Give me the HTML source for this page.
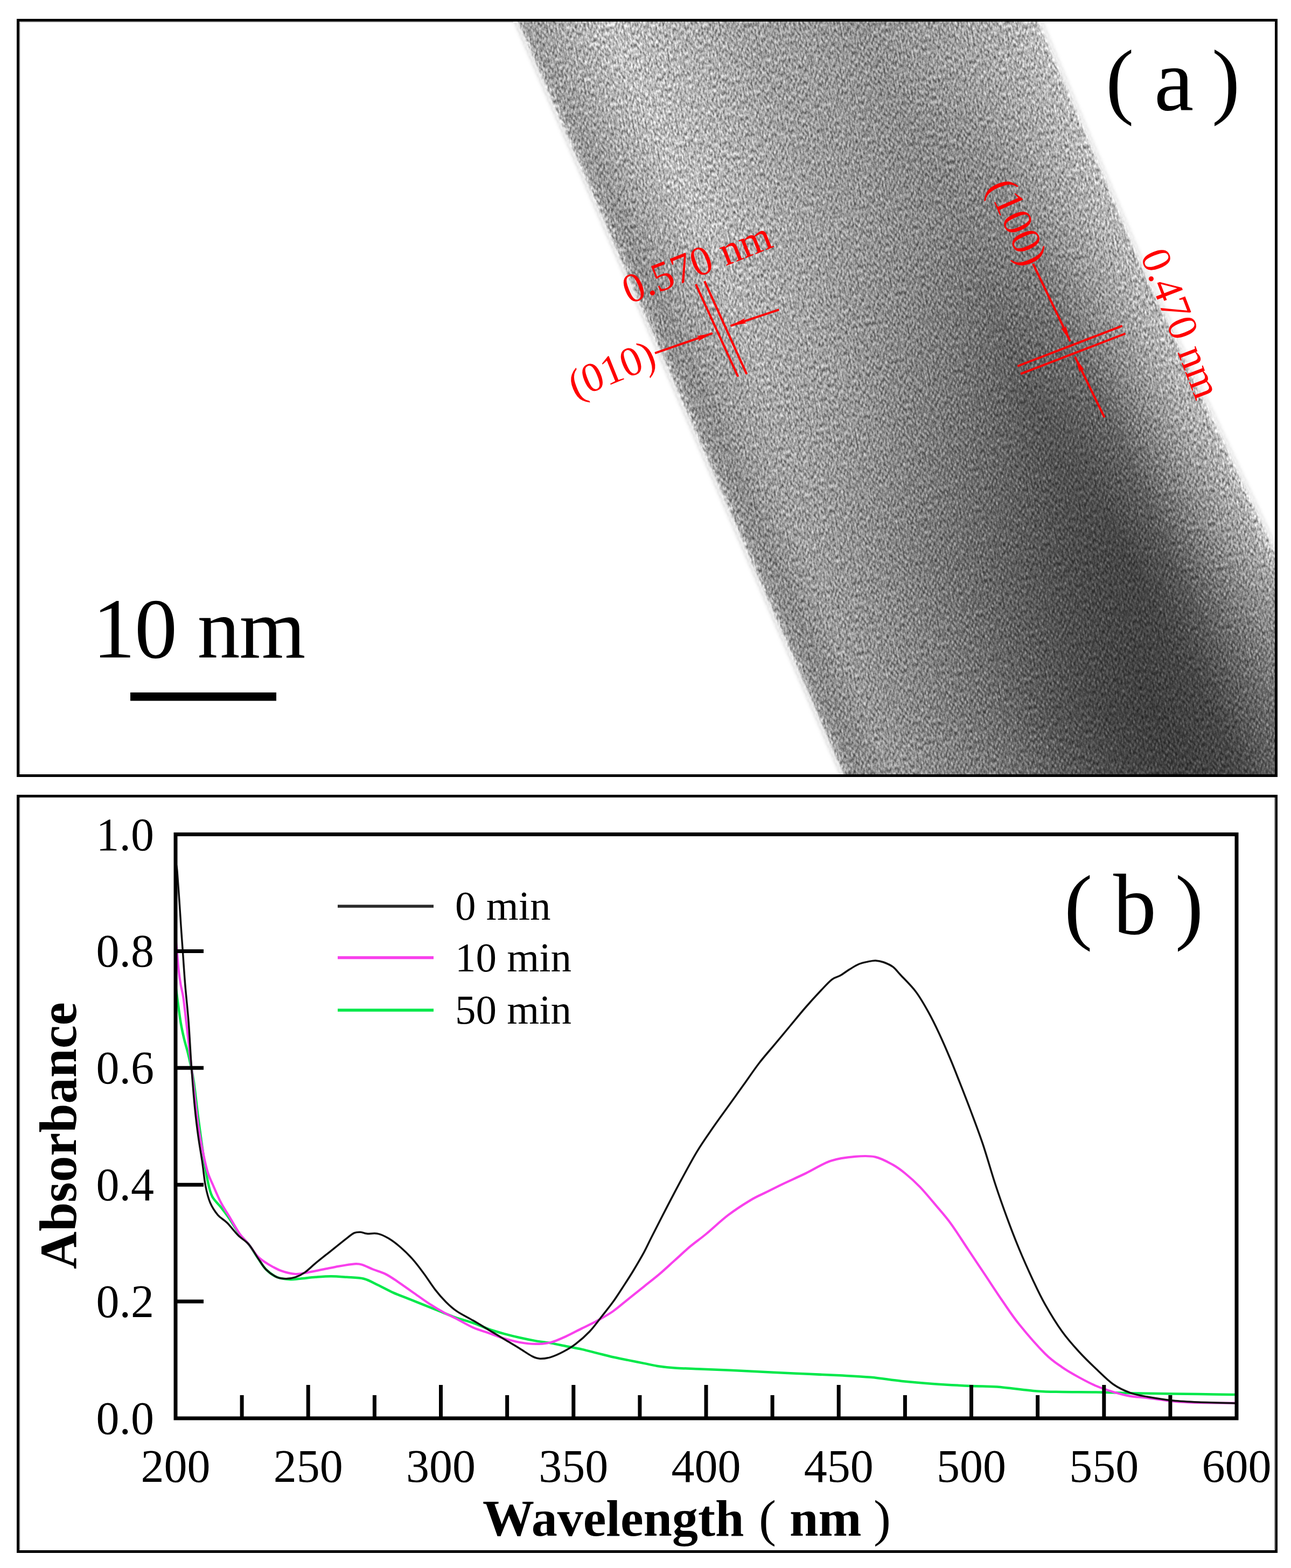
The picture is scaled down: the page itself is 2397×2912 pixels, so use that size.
<!DOCTYPE html>
<html><head><meta charset="utf-8"><title>Figure</title>
<style>
html,body{margin:0;padding:0;background:#fff;}
body{width:2397px;height:2912px;overflow:hidden;}
svg{display:block;}
text{font-family:"Liberation Serif","Times New Roman",serif;}
</style></head>
<body>
<svg width="2397" height="2912" viewBox="0 0 2397 2912">
<defs>
<clipPath id="clipA"><rect x="36" y="40" width="2331" height="1398"/></clipPath>
<linearGradient id="gp0" gradientUnits="userSpaceOnUse" x1="959.0" y1="40.0" x2="1780.4" y2="-315.5"><stop offset="0.000" stop-color="#b9b9b9"/><stop offset="0.008" stop-color="#acacac"/><stop offset="0.018" stop-color="#969696"/><stop offset="0.040" stop-color="#9b9b9b"/><stop offset="0.176" stop-color="#bcbcbc"/><stop offset="0.330" stop-color="#aaaaaa"/><stop offset="0.435" stop-color="#9a9a9a"/><stop offset="0.525" stop-color="#969696"/><stop offset="0.655" stop-color="#8b8b8b"/><stop offset="0.810" stop-color="#999999"/><stop offset="0.930" stop-color="#aaaaaa"/><stop offset="0.985" stop-color="#b9b9b9"/><stop offset="1.000" stop-color="#cfcfcf"/></linearGradient>
<linearGradient id="gp1" gradientUnits="userSpaceOnUse" x1="959.0" y1="40.0" x2="1780.4" y2="-315.5"><stop offset="0.000" stop-color="#b9b9b9"/><stop offset="0.008" stop-color="#aaaaaa"/><stop offset="0.018" stop-color="#929292"/><stop offset="0.040" stop-color="#8c8c8c"/><stop offset="0.070" stop-color="#999999"/><stop offset="0.180" stop-color="#b8b8b8"/><stop offset="0.380" stop-color="#9d9d9d"/><stop offset="0.540" stop-color="#898989"/><stop offset="0.680" stop-color="#7a7a7a"/><stop offset="0.790" stop-color="#7e7e7e"/><stop offset="0.880" stop-color="#979797"/><stop offset="0.940" stop-color="#a9a9a9"/><stop offset="0.985" stop-color="#b6b6b6"/><stop offset="1.000" stop-color="#cccccc"/></linearGradient>
<linearGradient id="gm1" gradientUnits="userSpaceOnUse" x1="0" y1="130" x2="0" y2="430"><stop offset="0" stop-color="#fff" stop-opacity="0"/><stop offset="1" stop-color="#fff" stop-opacity="1"/></linearGradient>
<mask id="mk1" maskUnits="userSpaceOnUse" x="800" y="-200" width="1700" height="1900"><rect x="800" y="-200" width="1700" height="1900" fill="url(#gm1)"/></mask>
<linearGradient id="gp2" gradientUnits="userSpaceOnUse" x1="959.0" y1="40.0" x2="1780.4" y2="-315.5"><stop offset="0.000" stop-color="#b9b9b9"/><stop offset="0.008" stop-color="#aaaaaa"/><stop offset="0.018" stop-color="#909090"/><stop offset="0.045" stop-color="#888888"/><stop offset="0.080" stop-color="#969696"/><stop offset="0.165" stop-color="#a4a4a4"/><stop offset="0.320" stop-color="#949494"/><stop offset="0.426" stop-color="#808080"/><stop offset="0.530" stop-color="#707070"/><stop offset="0.670" stop-color="#565656"/><stop offset="0.800" stop-color="#626262"/><stop offset="0.878" stop-color="#868686"/><stop offset="0.940" stop-color="#a3a3a3"/><stop offset="0.985" stop-color="#b4b4b4"/><stop offset="1.000" stop-color="#cccccc"/></linearGradient>
<linearGradient id="gm2" gradientUnits="userSpaceOnUse" x1="0" y1="430" x2="0" y2="730"><stop offset="0" stop-color="#fff" stop-opacity="0"/><stop offset="1" stop-color="#fff" stop-opacity="1"/></linearGradient>
<mask id="mk2" maskUnits="userSpaceOnUse" x="800" y="-200" width="1700" height="1900"><rect x="800" y="-200" width="1700" height="1900" fill="url(#gm2)"/></mask>
<linearGradient id="gp3" gradientUnits="userSpaceOnUse" x1="959.0" y1="40.0" x2="1780.4" y2="-315.5"><stop offset="0.000" stop-color="#b4b4b4"/><stop offset="0.008" stop-color="#a5a5a5"/><stop offset="0.018" stop-color="#8c8c8c"/><stop offset="0.045" stop-color="#858585"/><stop offset="0.075" stop-color="#909090"/><stop offset="0.116" stop-color="#999999"/><stop offset="0.236" stop-color="#888888"/><stop offset="0.343" stop-color="#747474"/><stop offset="0.433" stop-color="#666666"/><stop offset="0.530" stop-color="#565656"/><stop offset="0.620" stop-color="#494949"/><stop offset="0.720" stop-color="#424242"/><stop offset="0.800" stop-color="#525252"/><stop offset="0.860" stop-color="#6e6e6e"/><stop offset="0.925" stop-color="#8c8c8c"/><stop offset="0.980" stop-color="#a2a2a2"/><stop offset="1.000" stop-color="#bcbcbc"/></linearGradient>
<linearGradient id="gm3" gradientUnits="userSpaceOnUse" x1="0" y1="730" x2="0" y2="1030"><stop offset="0" stop-color="#fff" stop-opacity="0"/><stop offset="1" stop-color="#fff" stop-opacity="1"/></linearGradient>
<mask id="mk3" maskUnits="userSpaceOnUse" x="800" y="-200" width="1700" height="1900"><rect x="800" y="-200" width="1700" height="1900" fill="url(#gm3)"/></mask>
<linearGradient id="gp4" gradientUnits="userSpaceOnUse" x1="959.0" y1="40.0" x2="1780.4" y2="-315.5"><stop offset="0.000" stop-color="#afafaf"/><stop offset="0.008" stop-color="#a0a0a0"/><stop offset="0.018" stop-color="#888888"/><stop offset="0.040" stop-color="#838383"/><stop offset="0.100" stop-color="#909090"/><stop offset="0.222" stop-color="#7c7c7c"/><stop offset="0.343" stop-color="#686868"/><stop offset="0.443" stop-color="#525252"/><stop offset="0.550" stop-color="#424242"/><stop offset="0.650" stop-color="#3c3c3c"/><stop offset="0.760" stop-color="#444444"/><stop offset="0.835" stop-color="#5c5c5c"/><stop offset="0.900" stop-color="#6c6c6c"/><stop offset="1.000" stop-color="#7d7d7d"/></linearGradient>
<linearGradient id="gm4" gradientUnits="userSpaceOnUse" x1="0" y1="1030" x2="0" y2="1330"><stop offset="0" stop-color="#fff" stop-opacity="0"/><stop offset="1" stop-color="#fff" stop-opacity="1"/></linearGradient>
<mask id="mk4" maskUnits="userSpaceOnUse" x="800" y="-200" width="1700" height="1900"><rect x="800" y="-200" width="1700" height="1900" fill="url(#gm4)"/></mask>
<filter id="tex" x="-0.05" y="-0.05" width="1.1" height="1.1" color-interpolation-filters="sRGB"><feOffset in="SourceGraphic" dx="0" dy="0" result="b"/><feTurbulence type="fractalNoise" baseFrequency="0.30 0.13" numOctaves="2" seed="11" result="t"/><feColorMatrix in="t" type="matrix" values="1 0 0 0 0  1 0 0 0 0  1 0 0 0 0  0 0 0 0 1" result="g"/><feComposite in="b" in2="g" operator="arithmetic" k1="1.4" k2="0.3" k3="0" k4="0" result="c"/><feComposite in="c" in2="b" operator="in"/></filter>
<marker id="arr" viewBox="0 0 30 12" refX="30" refY="6" markerWidth="30" markerHeight="12" markerUnits="userSpaceOnUse" orient="auto"><path d="M0,1 L30,6 L0,11 L6,6 Z" fill="#f00"/></marker>
<filter id="blurM" x="-0.05" y="-0.05" width="1.1" height="1.1"><feGaussianBlur stdDeviation="5"/></filter>
<mask id="mBand" maskUnits="userSpaceOnUse" x="800" y="-200" width="1700" height="1900"><path d="M898.4,-100.0 L1872.2,-100.0 L1931.0,40.0 L2019.0,250.0 L2124.0,500.0 L2366.0,1016.0 L2420.0,1131.0 L2420.0,1560.0 L1616.8,1560.0 Z" fill="#fff" filter="url(#blurM)" transform="translate(0,0)"/></mask>
<pattern id="lat" patternUnits="userSpaceOnUse" width="9" height="12" patternTransform="rotate(-10)"><rect width="9" height="12" fill="#787878"/><ellipse cx="0" cy="0" rx="2.1" ry="3.3" fill="#9c9c9c"/><ellipse cx="9" cy="0" rx="2.1" ry="3.3" fill="#9c9c9c"/><ellipse cx="0" cy="12" rx="2.1" ry="3.3" fill="#9c9c9c"/><ellipse cx="9" cy="12" rx="2.1" ry="3.3" fill="#9c9c9c"/><ellipse cx="4.5" cy="6" rx="2.1" ry="3.3" fill="#9c9c9c"/></pattern>
</defs>
<g clip-path="url(#clipA)"><g transform="rotate(-10 1660 740)"><g filter="url(#tex)"><g transform="rotate(10 1660 740)">
<path d="M898.4,-100.0 L1872.2,-100.0 L1931.0,40.0 L2019.0,250.0 L2124.0,500.0 L2366.0,1016.0 L2420.0,1131.0 L2420.0,1560.0 L1616.8,1560.0 Z" fill="url(#gp0)"/>
<path d="M898.4,-100.0 L1872.2,-100.0 L1931.0,40.0 L2019.0,250.0 L2124.0,500.0 L2366.0,1016.0 L2420.0,1131.0 L2420.0,1560.0 L1616.8,1560.0 Z" fill="url(#gp1)" mask="url(#mk1)"/>
<path d="M898.4,-100.0 L1872.2,-100.0 L1931.0,40.0 L2019.0,250.0 L2124.0,500.0 L2366.0,1016.0 L2420.0,1131.0 L2420.0,1560.0 L1616.8,1560.0 Z" fill="url(#gp2)" mask="url(#mk2)"/>
<path d="M898.4,-100.0 L1872.2,-100.0 L1931.0,40.0 L2019.0,250.0 L2124.0,500.0 L2366.0,1016.0 L2420.0,1131.0 L2420.0,1560.0 L1616.8,1560.0 Z" fill="url(#gp3)" mask="url(#mk3)"/>
<path d="M898.4,-100.0 L1872.2,-100.0 L1931.0,40.0 L2019.0,250.0 L2124.0,500.0 L2366.0,1016.0 L2420.0,1131.0 L2420.0,1560.0 L1616.8,1560.0 Z" fill="url(#gp4)" mask="url(#mk4)"/>
</g></g></g>
<rect x="900" y="40" width="1467" height="1398" fill="url(#lat)" mask="url(#mBand)" style="mix-blend-mode:overlay"/>
<filter id="fth" x="-0.1" y="-0.1" width="1.2" height="1.2"><feGaussianBlur stdDeviation="1.8"/></filter>
<g fill="none" stroke="#fff" filter="url(#fth)">
<path d="M898.4,-100.0 L1616.8,1560.0" stroke-width="5" stroke-opacity="0.8"/>
<path d="M1872.2,-100.0 L1931.0,40.0 L2019.0,250.0 L2124.0,500.0 L2366.0,1016.0 L2420.0,1131.0" stroke-width="8" stroke-opacity="0.7"/>
</g>
</g>
<rect x="33.5" y="37.5" width="2336" height="1403" fill="none" stroke="#000" stroke-width="5"/>
<text x="2053" y="200.5" font-size="157" fill="#000">(</text>
<text x="2143" y="203.5" font-size="165" fill="#000">a</text>
<text x="2250" y="200.5" font-size="157" fill="#000">)</text>
<text x="172" y="1221" font-size="158" letter-spacing="-1" fill="#000">10 nm</text>
<rect x="242" y="1286" width="271" height="15.5" fill="#000"/>
<g fill="#f00" font-size="77">
<text id="t570" transform="translate(1168,565) rotate(-21.6)">0.570 nm</text>
<text id="t010" transform="translate(1068,741) rotate(-22)">(010)</text>
<text id="t100" transform="translate(1833,346) rotate(66.5)">(100)</text>
<text id="t470" transform="translate(2117,474) rotate(69)">0.470 nm</text>
</g>
<g stroke="#f00" fill="none" stroke-width="4" stroke-linecap="butt">
<line x1="1291.9" y1="527.9" x2="1370.3" y2="699.5"/>
<line x1="1308.1" y1="522.1" x2="1386.4" y2="694.9"/>
<line x1="1216" y1="655.8" x2="1323" y2="618.9" marker-end="url(#arr)"/>
<line x1="1446.3" y1="575.1" x2="1356.5" y2="605.1" marker-end="url(#arr)"/>
<line x1="1889.3" y1="680" x2="2083.7" y2="605.1"/>
<line x1="1895" y1="694.4" x2="2089.5" y2="619.5"/>
<line x1="1918.1" y1="489.9" x2="1987.2" y2="633.9" marker-end="url(#arr)"/>
<line x1="2050.6" y1="775.1" x2="1995.9" y2="662.7" marker-end="url(#arr)"/>
</g>
<rect x="33.5" y="1478.5" width="2336" height="1403" fill="none" stroke="#000" stroke-width="5"/>
<g fill="#cdcdcd"><rect x="36" y="40" width="2" height="1398"/><rect x="38" y="40" width="915" height="2"/><rect x="36" y="1481" width="2" height="1397"/><rect x="2366" y="1481" width="2" height="1397" fill="#8a8a8a"/></g>
<g fill="none" stroke-linejoin="round" stroke-linecap="round">
<path d="M325.5,1825.0 C326.2,1830.8 328.3,1847.5 330.0,1860.0 C331.7,1872.5 333.7,1888.3 335.7,1900.0 C337.7,1911.7 339.6,1920.0 342.0,1930.0 C344.4,1940.0 347.1,1947.4 350.0,1960.0 C352.9,1972.6 356.3,1986.2 359.3,2005.4 C362.3,2024.6 364.8,2051.0 368.0,2075.0 C371.2,2099.0 375.3,2129.6 378.3,2149.6 C381.3,2169.6 383.4,2182.9 386.0,2195.0 C388.6,2207.1 389.9,2214.1 394.0,2222.0 C398.1,2229.9 405.1,2235.5 410.3,2242.2 C415.5,2248.9 419.2,2253.7 425.0,2262.0 C430.8,2270.3 438.7,2283.8 444.9,2292.0 C451.1,2300.2 456.4,2303.8 462.2,2311.3 C467.9,2318.8 474.1,2329.5 479.4,2337.2 C484.7,2344.9 488.0,2351.6 493.8,2357.4 C499.6,2363.2 506.8,2368.7 514.0,2371.8 C521.2,2374.9 529.8,2375.6 537.0,2376.1 C544.2,2376.6 549.0,2375.4 557.2,2374.7 C565.4,2374.0 576.4,2372.5 586.0,2371.8 C595.6,2371.1 605.2,2370.3 614.8,2370.3 C624.4,2370.3 633.5,2371.1 643.6,2371.8 C653.7,2372.5 665.7,2372.3 675.3,2374.7 C684.9,2377.1 692.1,2381.9 701.2,2386.2 C710.3,2390.5 720.4,2396.3 730.0,2400.6 C739.6,2404.9 749.2,2408.3 758.8,2412.1 C768.4,2415.9 778.0,2419.8 787.6,2423.6 C797.2,2427.4 806.8,2431.2 816.4,2435.1 C826.0,2438.9 834.8,2443.0 845.2,2446.7 C855.6,2450.3 868.4,2453.4 878.8,2457.0 C889.2,2460.6 898.0,2465.2 907.6,2468.5 C917.2,2471.8 926.8,2474.5 936.4,2477.1 C946.0,2479.7 955.6,2482.1 965.2,2484.3 C974.8,2486.5 984.4,2488.4 994.0,2490.1 C1003.6,2491.8 1013.2,2492.7 1022.8,2494.4 C1032.4,2496.1 1042.0,2498.3 1051.6,2500.2 C1061.2,2502.1 1070.8,2503.8 1080.4,2505.9 C1090.0,2508.1 1099.6,2510.7 1109.2,2513.1 C1118.8,2515.5 1128.4,2518.1 1138.0,2520.3 C1147.6,2522.5 1157.2,2524.2 1166.8,2526.1 C1176.4,2528.0 1186.0,2530.0 1195.6,2531.9 C1205.2,2533.8 1214.8,2536.2 1224.4,2537.6 C1234.0,2539.0 1240.6,2539.7 1253.2,2540.5 C1265.8,2541.3 1277.8,2541.6 1300.0,2542.5 C1322.2,2543.4 1357.6,2544.8 1386.4,2546.2 C1415.2,2547.5 1444.0,2549.2 1472.8,2550.6 C1501.6,2551.9 1535.2,2553.1 1559.2,2554.3 C1583.2,2555.5 1597.6,2556.0 1616.8,2557.8 C1636.0,2559.6 1655.2,2563.0 1674.4,2565.0 C1693.6,2567.0 1710.4,2568.4 1732.0,2569.9 C1753.6,2571.4 1784.0,2573.0 1803.9,2573.9 C1823.8,2574.8 1831.3,2573.9 1851.4,2575.5 C1871.5,2577.1 1904.2,2581.8 1924.3,2583.4 C1944.4,2585.0 1953.3,2584.7 1971.8,2585.0 C1990.3,2585.3 2014.1,2585.1 2035.2,2585.5 C2056.3,2585.9 2077.4,2586.8 2098.5,2587.2 C2119.6,2587.6 2140.8,2587.9 2161.9,2588.2 C2183.0,2588.5 2203.3,2588.8 2225.3,2589.1 C2247.3,2589.4 2282.6,2589.8 2294.0,2590.0" stroke="#00e84a" stroke-width="4.5"/>
<path d="M325.5,1737.0 C325.9,1740.8 327.0,1749.5 328.0,1760.0 C329.0,1770.5 330.2,1788.5 331.5,1800.0 C332.8,1811.5 334.1,1820.2 335.6,1829.0 C337.1,1837.8 338.7,1841.2 340.4,1853.0 C342.1,1864.8 343.5,1878.5 346.0,1900.0 C348.5,1921.5 351.8,1950.3 355.5,1982.0 C359.2,2013.7 364.2,2062.8 368.0,2090.0 C371.8,2117.2 375.0,2130.3 378.0,2145.0 C381.0,2159.7 383.0,2168.5 386.0,2178.0 C389.0,2187.5 391.8,2192.6 395.9,2201.8 C399.9,2211.1 405.0,2223.4 410.3,2233.5 C415.6,2243.6 421.8,2252.7 427.6,2262.3 C433.4,2271.9 439.1,2282.9 444.9,2291.1 C450.7,2299.3 456.4,2304.1 462.2,2311.3 C467.9,2318.5 473.2,2328.1 479.4,2334.3 C485.6,2340.5 492.4,2344.4 499.6,2348.7 C506.8,2353.0 514.4,2357.4 522.6,2360.3 C530.8,2363.2 540.4,2365.5 548.6,2366.0 C556.8,2366.5 563.0,2364.5 571.6,2363.1 C580.2,2361.7 590.8,2359.3 600.4,2357.4 C610.0,2355.5 619.6,2353.3 629.2,2351.6 C638.8,2349.9 650.8,2347.8 658.0,2347.3 C665.2,2346.8 666.6,2347.0 672.4,2348.7 C678.2,2350.4 685.4,2354.5 692.6,2357.4 C699.8,2360.3 707.9,2362.2 715.6,2366.0 C723.3,2369.8 730.1,2374.6 738.7,2380.4 C747.4,2386.2 757.9,2393.9 767.5,2400.6 C777.1,2407.3 786.7,2414.5 796.3,2420.7 C805.9,2426.9 816.5,2433.2 825.1,2438.0 C833.7,2442.8 839.2,2444.9 848.1,2449.5 C857.0,2454.1 868.9,2461.2 878.8,2465.6 C888.7,2470.0 898.0,2472.3 907.6,2475.7 C917.2,2479.1 926.8,2482.9 936.4,2485.8 C946.0,2488.7 955.6,2491.3 965.2,2493.0 C974.8,2494.7 984.4,2495.9 994.0,2495.9 C1003.6,2495.9 1013.2,2495.4 1022.8,2493.0 C1032.4,2490.6 1042.0,2485.8 1051.6,2481.5 C1061.2,2477.2 1070.8,2471.8 1080.4,2467.0 C1090.0,2462.2 1099.6,2457.9 1109.2,2452.6 C1118.8,2447.3 1128.4,2442.1 1138.0,2435.4 C1147.6,2428.7 1157.2,2420.0 1166.8,2412.3 C1176.4,2404.6 1186.0,2397.0 1195.6,2389.3 C1205.2,2381.6 1214.8,2374.4 1224.4,2366.2 C1234.0,2358.0 1243.6,2348.9 1253.2,2340.3 C1262.8,2331.7 1272.3,2322.5 1282.0,2314.4 C1291.7,2306.3 1299.7,2301.1 1311.3,2291.5 C1322.9,2281.9 1337.7,2267.5 1351.6,2256.9 C1365.5,2246.3 1382.8,2235.3 1394.8,2228.1 C1406.8,2220.9 1414.0,2218.5 1423.6,2213.7 C1433.2,2208.9 1440.3,2205.1 1452.4,2199.3 C1464.5,2193.5 1481.1,2186.2 1496.1,2179.0 C1511.1,2171.8 1526.8,2161.2 1542.2,2156.0 C1557.6,2150.8 1574.4,2149.1 1588.2,2147.9 C1602.0,2146.7 1613.6,2146.1 1625.1,2148.6 C1636.6,2151.1 1648.2,2157.8 1657.4,2162.9 C1666.6,2168.0 1672.0,2172.1 1680.4,2179.0 C1688.9,2185.9 1698.5,2194.4 1708.1,2204.4 C1717.7,2214.4 1728.4,2227.5 1738.0,2238.9 C1747.6,2250.3 1755.9,2259.3 1765.8,2272.9 C1775.7,2286.5 1786.9,2304.6 1797.5,2320.4 C1808.1,2336.2 1818.6,2352.1 1829.2,2367.9 C1839.8,2383.8 1850.3,2400.2 1860.9,2415.5 C1871.5,2430.8 1879.4,2443.4 1892.6,2459.8 C1905.8,2476.2 1926.9,2500.5 1940.1,2513.7 C1953.3,2526.9 1961.2,2531.6 1971.8,2539.0 C1982.4,2546.4 1992.9,2552.2 2003.5,2558.0 C2014.1,2563.8 2024.6,2569.4 2035.2,2573.9 C2045.8,2578.4 2056.3,2581.8 2066.9,2585.0 C2077.5,2588.2 2087.9,2591.1 2098.5,2592.9 C2109.1,2594.8 2117.0,2594.5 2130.2,2596.1 C2143.4,2597.7 2162.0,2600.9 2177.8,2602.4 C2193.7,2603.9 2205.9,2604.5 2225.3,2605.0 C2244.7,2605.5 2282.6,2605.5 2294.0,2605.6" stroke="#f840ec" stroke-width="4.2"/>
<path d="M327.0,1605.0 C327.3,1607.2 327.9,1605.3 329.0,1618.0 C330.1,1630.7 332.2,1662.8 333.5,1681.0 C334.8,1699.2 335.5,1712.8 336.5,1727.0 C337.5,1741.2 338.1,1749.0 339.3,1766.0 C340.5,1783.0 342.0,1806.7 343.8,1829.0 C345.6,1851.3 348.4,1874.5 350.3,1900.0 C352.2,1925.5 353.6,1955.3 355.5,1982.0 C357.4,2008.7 359.9,2038.7 362.0,2060.0 C364.1,2081.3 365.7,2093.3 368.0,2110.0 C370.3,2126.7 373.6,2144.7 375.8,2160.0 C378.1,2175.3 379.1,2189.8 381.5,2202.0 C383.9,2214.2 386.3,2224.4 390.2,2233.5 C394.1,2242.6 399.3,2250.3 404.6,2256.6 C409.9,2262.8 415.6,2264.8 421.8,2271.0 C428.0,2277.2 435.3,2287.3 442.0,2294.0 C448.7,2300.7 456.0,2304.1 462.2,2311.3 C468.4,2318.5 474.1,2329.5 479.4,2337.2 C484.7,2344.9 488.0,2351.6 493.8,2357.4 C499.6,2363.2 507.8,2368.9 514.0,2371.8 C520.2,2374.7 525.5,2374.7 531.3,2374.7 C537.1,2374.7 542.8,2373.7 548.6,2371.8 C554.4,2369.9 559.7,2367.4 565.9,2363.1 C572.1,2358.8 577.9,2352.6 586.0,2345.9 C594.1,2339.2 605.2,2330.5 614.8,2322.8 C624.4,2315.1 636.4,2305.3 643.6,2299.8 C650.8,2294.3 653.7,2291.6 658.0,2289.7 C662.3,2287.8 665.7,2288.0 669.5,2288.2 C673.3,2288.4 675.7,2290.6 681.0,2291.1 C686.3,2291.6 694.5,2289.6 701.2,2291.1 C707.9,2292.6 714.2,2295.5 721.4,2299.8 C728.6,2304.1 736.7,2310.3 744.4,2317.0 C752.1,2323.7 760.3,2331.9 767.5,2340.1 C774.7,2348.3 780.9,2356.9 787.6,2366.0 C794.3,2375.1 801.1,2386.2 807.8,2394.8 C814.5,2403.5 821.3,2411.2 828.0,2417.9 C834.7,2424.6 839.6,2429.3 848.1,2435.1 C856.6,2440.9 868.9,2446.8 878.8,2452.6 C888.7,2458.4 898.0,2464.1 907.6,2469.9 C917.2,2475.7 926.8,2481.4 936.4,2487.2 C946.0,2493.0 956.6,2499.2 965.2,2504.5 C973.8,2509.8 982.0,2515.8 988.2,2518.9 C994.4,2522.0 996.8,2523.0 1002.6,2523.2 C1008.4,2523.4 1015.6,2522.5 1022.8,2520.3 C1030.0,2518.2 1038.2,2514.4 1045.9,2510.3 C1053.6,2506.2 1060.8,2502.2 1068.9,2495.9 C1077.1,2489.7 1086.6,2481.5 1094.8,2472.8 C1103.0,2464.2 1110.7,2453.1 1117.9,2444.0 C1125.1,2434.9 1131.8,2426.7 1138.0,2418.1 C1144.2,2409.5 1149.0,2401.8 1155.3,2392.2 C1161.5,2382.6 1168.8,2371.6 1175.5,2360.5 C1182.2,2349.4 1189.8,2336.5 1195.6,2325.9 C1201.3,2315.3 1203.2,2310.4 1210.0,2297.0 C1216.8,2283.6 1227.2,2263.1 1236.4,2245.4 C1245.6,2227.7 1255.6,2208.5 1265.2,2190.7 C1274.8,2172.9 1284.4,2154.7 1294.0,2138.8 C1303.6,2123.0 1313.2,2109.5 1322.8,2095.6 C1332.4,2081.7 1342.0,2068.7 1351.6,2055.3 C1361.2,2041.9 1370.8,2028.4 1380.4,2015.0 C1390.0,2001.6 1399.6,1987.2 1409.2,1974.7 C1418.8,1962.2 1428.4,1951.6 1438.0,1940.1 C1447.6,1928.6 1457.2,1917.0 1466.8,1905.5 C1476.4,1894.0 1486.0,1882.0 1495.6,1871.0 C1505.2,1860.0 1516.2,1848.0 1524.4,1839.3 C1532.6,1830.6 1538.7,1823.7 1544.6,1819.1 C1550.5,1814.5 1554.5,1814.9 1560.0,1811.8 C1565.5,1808.7 1571.5,1803.8 1577.3,1800.3 C1583.1,1796.8 1588.8,1792.9 1594.6,1790.5 C1600.3,1788.1 1606.6,1787.0 1611.8,1785.9 C1617.0,1784.8 1620.9,1783.7 1625.7,1783.9 C1630.5,1784.1 1635.2,1785.0 1640.6,1787.0 C1646.0,1789.0 1652.8,1791.8 1658.0,1795.7 C1663.2,1799.6 1664.9,1802.8 1672.0,1810.5 C1679.1,1818.2 1692.2,1830.7 1700.8,1842.2 C1709.4,1853.7 1716.6,1866.6 1723.8,1879.6 C1731.0,1892.5 1737.3,1905.5 1744.0,1919.9 C1750.7,1934.3 1758.0,1951.1 1764.2,1966.0 C1770.5,1980.9 1775.3,1993.4 1781.5,2009.2 C1787.7,2025.0 1794.4,2041.8 1801.6,2061.0 C1808.8,2080.2 1816.9,2101.2 1824.7,2124.4 C1832.5,2147.6 1840.6,2176.8 1848.2,2200.0 C1855.8,2223.2 1863.0,2243.3 1870.4,2263.4 C1877.8,2283.5 1884.7,2301.4 1892.6,2320.4 C1900.5,2339.4 1910.0,2360.5 1917.9,2377.4 C1925.8,2394.3 1931.1,2406.0 1940.1,2421.8 C1949.1,2437.7 1961.2,2457.7 1971.8,2472.5 C1982.4,2487.3 1992.9,2498.9 2003.5,2510.5 C2014.1,2522.1 2024.6,2532.2 2035.2,2542.2 C2045.8,2552.2 2056.3,2563.3 2066.9,2570.7 C2077.5,2578.1 2087.9,2582.7 2098.5,2586.6 C2109.1,2590.5 2117.0,2591.6 2130.2,2594.0 C2143.4,2596.4 2162.0,2599.3 2177.8,2601.0 C2193.7,2602.7 2205.9,2603.2 2225.3,2604.0 C2244.7,2604.8 2282.6,2605.7 2294.0,2606.0" stroke="#111" stroke-width="3.5"/>
</g>
<rect x="326.0" y="1549.5" width="1970.0" height="1084.5" fill="none" stroke="#000" stroke-width="7"/>
<g stroke="#000" stroke-width="7"><line x1="449.1" y1="2634.0" x2="449.1" y2="2591.0"/><line x1="572.2" y1="2634.0" x2="572.2" y2="2572.0"/><line x1="695.4" y1="2634.0" x2="695.4" y2="2591.0"/><line x1="818.5" y1="2634.0" x2="818.5" y2="2572.0"/><line x1="941.6" y1="2634.0" x2="941.6" y2="2591.0"/><line x1="1064.8" y1="2634.0" x2="1064.8" y2="2572.0"/><line x1="1187.9" y1="2634.0" x2="1187.9" y2="2591.0"/><line x1="1311.0" y1="2634.0" x2="1311.0" y2="2572.0"/><line x1="1434.1" y1="2634.0" x2="1434.1" y2="2591.0"/><line x1="1557.2" y1="2634.0" x2="1557.2" y2="2572.0"/><line x1="1680.4" y1="2634.0" x2="1680.4" y2="2591.0"/><line x1="1803.5" y1="2634.0" x2="1803.5" y2="2572.0"/><line x1="1926.6" y1="2634.0" x2="1926.6" y2="2591.0"/><line x1="2049.8" y1="2634.0" x2="2049.8" y2="2572.0"/><line x1="2172.9" y1="2634.0" x2="2172.9" y2="2591.0"/><line x1="326.0" y1="2417.1" x2="378.0" y2="2417.1"/><line x1="326.0" y1="2200.2" x2="378.0" y2="2200.2"/><line x1="326.0" y1="1983.3" x2="378.0" y2="1983.3"/><line x1="326.0" y1="1766.4" x2="378.0" y2="1766.4"/></g>
<g font-size="86" fill="#000"><text x="326.0" y="2752" text-anchor="middle">200</text><text x="572.2" y="2752" text-anchor="middle">250</text><text x="818.5" y="2752" text-anchor="middle">300</text><text x="1064.8" y="2752" text-anchor="middle">350</text><text x="1311.0" y="2752" text-anchor="middle">400</text><text x="1557.2" y="2752" text-anchor="middle">450</text><text x="1803.5" y="2752" text-anchor="middle">500</text><text x="2049.8" y="2752" text-anchor="middle">550</text><text x="2296.0" y="2752" text-anchor="middle">600</text><text x="286" y="2663.0" text-anchor="end">0.0</text><text x="286" y="2446.1" text-anchor="end">0.2</text><text x="286" y="2229.2" text-anchor="end">0.4</text><text x="286" y="2012.3" text-anchor="end">0.6</text><text x="286" y="1795.4" text-anchor="end">0.8</text><text x="286" y="1578.5" text-anchor="end">1.0</text></g>
<text transform="translate(141,2109) rotate(-90)" text-anchor="middle" font-size="97" font-weight="bold">Absorbance</text>
<g font-size="96">
<text id="wl" x="896" y="2851.5" font-weight="bold">Wavelength</text>
<text id="wp1" x="1409" y="2851.5">(</text>
<text id="wnm" x="1466" y="2851.5" font-weight="bold">nm</text>
<text id="wp2" x="1622" y="2851.5">)</text>
</g>
<g stroke-width="5.5" fill="none">
<line x1="627" y1="1683" x2="805" y2="1683" stroke="#2a2a2a"/>
<line x1="627" y1="1778.5" x2="805" y2="1778.5" stroke="#f840ec"/>
<line x1="627" y1="1876" x2="805" y2="1876" stroke="#00e84a"/>
</g>
<g font-size="77" fill="#000">
<text x="845" y="1708">0 min</text>
<text x="845" y="1804">10 min</text>
<text x="845" y="1901">50 min</text>
</g>
<text x="1976" y="1734" font-size="157">(</text>
<text x="2067" y="1734" font-size="160">b</text>
<text x="2182" y="1734" font-size="157">)</text>
</svg>
</body></html>
